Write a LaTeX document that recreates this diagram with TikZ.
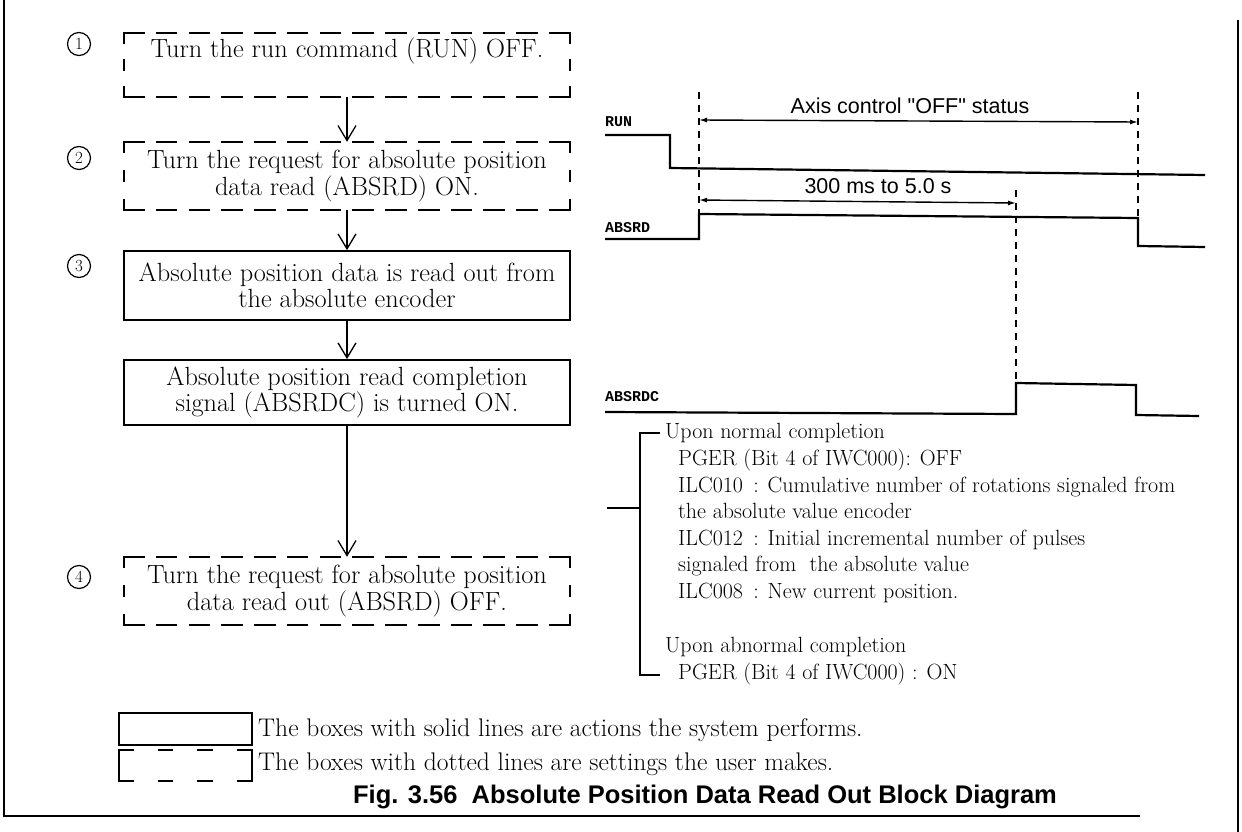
\documentclass[tikz,border=0pt]{standalone}
\usepackage{fontspec}
\newfontfamily\sansf{Liberation Sans}
\newfontfamily\monof{Liberation Mono}
\usetikzlibrary{arrows.meta}

% dashed frame round a user-setting box; the dash lengths are chosen so that
% every side starts and ends with a dash, which closes the corners
% #1 = node, #2 = gap on the vertical sides
\newcommand\userframe[2]{%
  \draw[dashh] (#1.north west) -- (#1.north east);
  \draw[dashh] (#1.south west) -- (#1.south east);
  \draw[dashv, dash pattern=on 10pt off #2] (#1.north west) -- (#1.south west);
  \draw[dashv, dash pattern=on 10pt off #2] (#1.north east) -- (#1.south east);}

\begin{document}
\begin{tikzpicture}[x=1pt,y=-1pt,
  boxtext/.style={font=\fontsize{26.3}{26.5}\selectfont, align=center,
    minimum width=446pt, inner sep=0pt},
  sysbox/.style={boxtext, draw, line width=1.8pt},
  userbox/.style={boxtext},
  dashh/.style={line width=1.6pt, line cap=rect, dash pattern=on 20pt off 12.77pt},
  dashv/.style={line width=1.6pt, line cap=rect},
  flow/.style={line width=1.3pt,
    -{Straight Barb[length=15pt,width=18pt,line width=1.3pt]}},
  numcirc/.style={circle, draw, line width=1.2pt, inner sep=0pt,
    minimum size=23pt, font=\fontsize{17}{17}\selectfont},
  siglabel/.style={font={\monof\bfseries\fontsize{15}{15}\selectfont},
    inner sep=0pt, anchor=west},
  sig/.style={line width=2.2pt, line join=miter},
  guide/.style={line width=1.3pt, dash pattern=on 7pt off 6pt},
  dimarrow/.style={line width=1.4pt,
    {Latex[length=8pt,width=5pt]}-{Latex[length=8pt,width=5pt]}},
  dimtext/.style={font={\sansf\fontsize{21.5}{21.5}\selectfont}, inner sep=0pt},
  bt/.style={font=\fontsize{22}{24}\selectfont, inner sep=0pt, anchor=west,
    text height=15pt, text depth=4pt},
  lt/.style={font=\fontsize{25.5}{26}\selectfont, inner sep=0pt, anchor=west,
    text height=17pt, text depth=5pt},
  frame/.style={line width=2.5pt}
]
\useasboundingbox (0,0) rectangle (1242,832);

% page frame
\draw[frame] (4,0) -- (4,816) -- (1140,816);
\draw[line width=1.5pt] (1238,20) -- (1238,832);

% ---------------- flow of steps ----------------
\node[userbox, minimum height=64pt] (b1) at (347,65)
  {Turn the run command (RUN) OFF.\\ \strut};
\node[userbox, minimum height=68pt] (b2) at (347,176)
  {Turn the request for absolute position\\data read (ABSRD) ON.};
\node[sysbox, minimum height=69pt] (b3) at (347,285.5)
  {Absolute position data is read out from\\the absolute encoder};
\node[sysbox, minimum height=65pt] (b5) at (347,392.5)
  {Absolute position read completion\\signal (ABSRDC) is turned ON.};
\node[userbox, minimum height=68pt] (b4) at (347,591)
  {Turn the request for absolute position\\data read out (ABSRD) OFF.};
\userframe{b1}{17pt}
\userframe{b2}{19pt}
\userframe{b4}{19pt}

\draw[flow] (b1) -- (b2);
\draw[flow] (b2) -- (b3);
\draw[flow] (b3) -- (b5);
\draw[flow] (b5) -- (b4);

\node[numcirc] (c1) at (79,44) {1};
\node[numcirc] (c2) at (79,158) {2};
\node[numcirc] (c3) at (79,266) {3};
\node[numcirc] (c4) at (79,577) {4};

% ---------------- timing chart ----------------
\node[siglabel] (lrun) at (605,122) {RUN};
\node[siglabel] (labs) at (605,228) {ABSRD};
\node[siglabel] (labsc) at (605,397) {ABSRDC};

\draw[sig] (605,135) -- (670,135) -- (670,168) -- (1205,175);
\draw[sig] (605,239) -- (699,239) -- (699,214) -- (1138,218) -- (1138,246) -- (1205,247);
\draw[sig] (605,412) -- (1016,414) -- (1016,383) -- (1136,385) -- (1136,415) -- (1199,416);

\coordinate (d1top) at (699,92);
\coordinate (d1bot) at (699,214);
\coordinate (d2top) at (1016,190);
\coordinate (d2bot) at (1016,383);
\coordinate (d3top) at (1138,92);
\coordinate (d3bot) at (1138,218);
\draw[guide] (d1top) -- (d1bot);
\draw[guide] (d2top) -- (d2bot);
\draw[guide] (d3top) -- (d3bot);

\coordinate (axl) at (699,120);
\coordinate (axr) at (1138,122);
\draw[dimarrow] (axl) -- (axr);
\node[dimtext] (axt) at (910,106) {Axis control "OFF" status};

\coordinate (msl) at (699,200);
\coordinate (msr) at (1016,203);
\draw[dimarrow] (msl) -- (msr);
\node[dimtext] (mst) at (878,186) {300 ms to 5.0 s};

% ---------------- result registers ----------------
\draw[line width=1.6pt] (660,433) -- (640,433) -- (640,675) -- (660,675);
\coordinate (stub) at (607,508);
\coordinate (stubend) at (640,508);
\draw[line width=1.6pt] (stub) -- (stubend);

\node[bt] (t1) at (665,433) {Upon normal completion};
\node[bt] (t2) at (678,460) {PGER (Bit 4 of IWC000): OFF};
\node[bt] (t3) at (678,487) {ILC010 \,: Cumulative number of rotations signaled from};
\node[bt] (t4) at (678,513) {the absolute value encoder};
\node[bt] (t5) at (678,540) {ILC012 \,: Initial incremental number of pulses};
\node[bt] (t6) at (678,566) {signaled from \ the absolute value};
\node[bt] (t7) at (678,593) {ILC008 \,: New current position.};
\node[bt] (t8) at (665,647) {Upon abnormal completion};
\node[bt] (t9) at (678,674) {PGER (Bit 4 of IWC000) : ON};

% ---------------- legend ----------------
\node[draw, line width=1.8pt, minimum width=133pt, minimum height=32pt,
  inner sep=0pt] (ls) at (185.5,729) {};
\node[minimum width=133pt, minimum height=31pt, inner sep=0pt] (lu) at (185.5,765.5) {};
\draw[dashh, dash pattern=on 14pt off 25.67pt] (lu.north west) -- (lu.north east);
\draw[dashh, dash pattern=on 14pt off 25.67pt] (lu.south west) -- (lu.south east);
\draw[dashv] (lu.north west) -- (lu.south west);
\draw[dashv] (lu.north east) -- (lu.south east);

\node[lt] (lst) at (258,730) {The boxes with solid lines are actions the system performs.};
\node[lt] (lut) at (258,764) {The boxes with dotted lines are settings the user makes.};

\node[font={\sansf\bfseries\fontsize{25.5}{26}\selectfont}, inner sep=0pt] (cap)
  at (705,797) {Fig. 3.56\ \ Absolute Position Data Read Out Block Diagram};
\end{tikzpicture}
\end{document}
